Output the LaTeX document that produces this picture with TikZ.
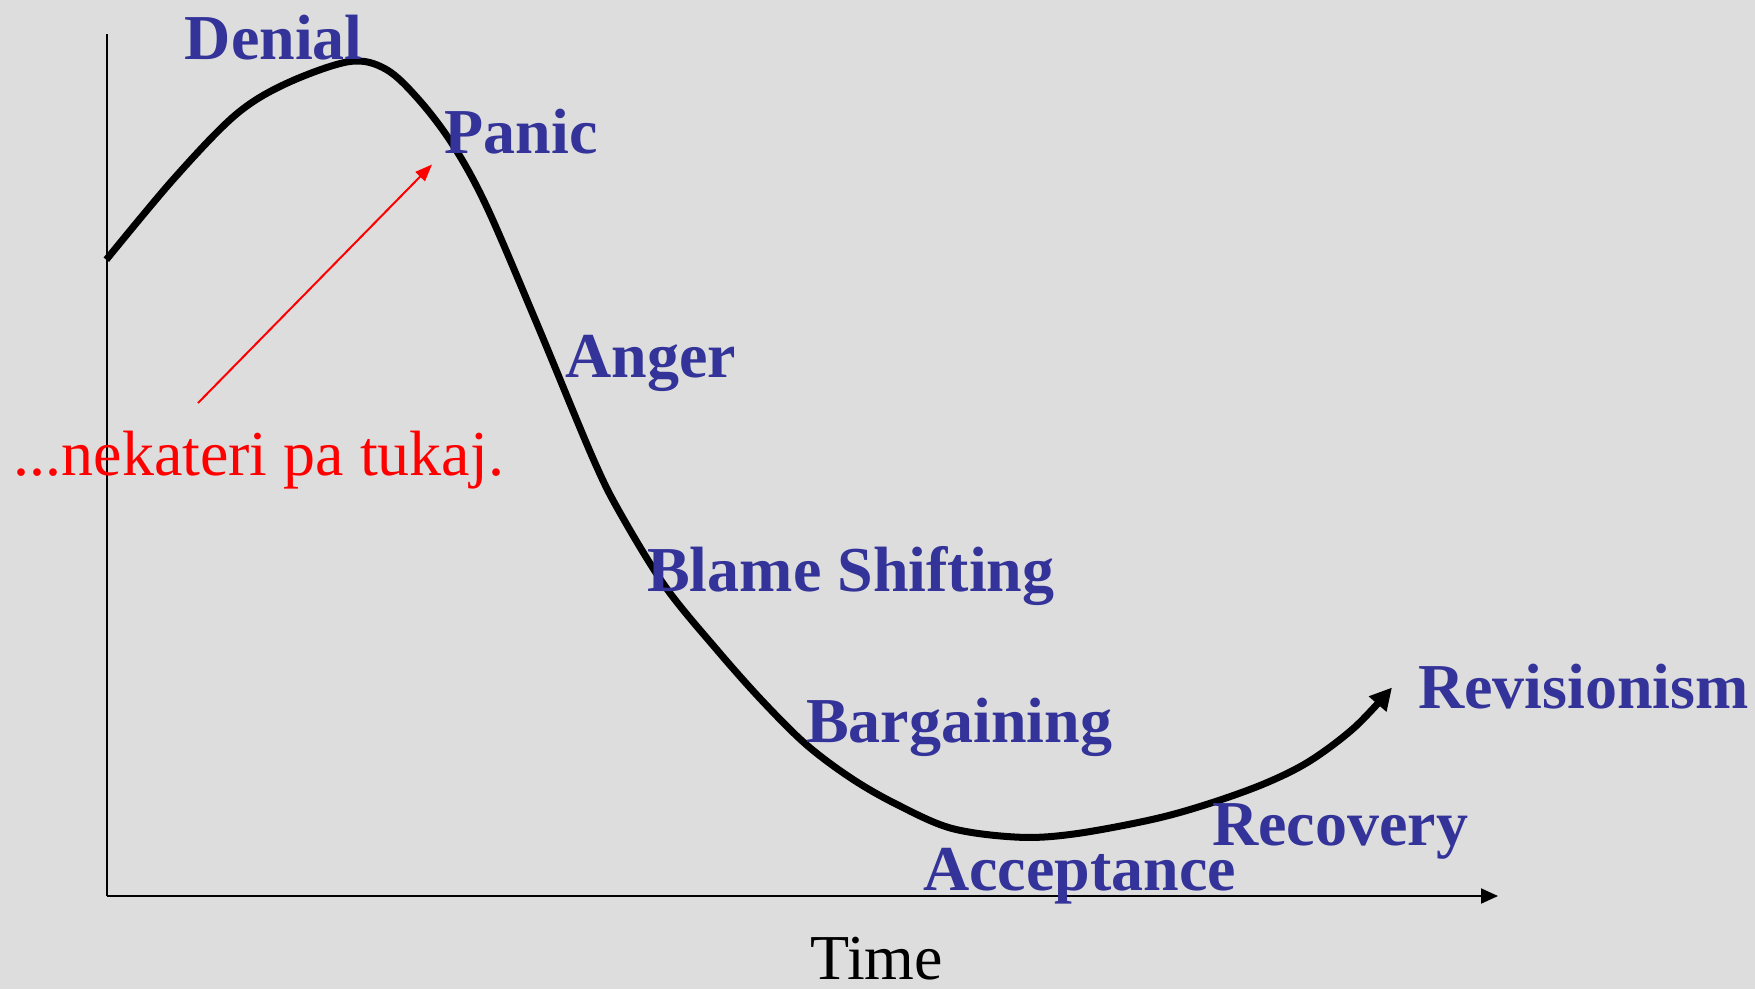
\documentclass[tikz,border=0pt]{standalone}
\usepackage{fontspec}
\setmainfont{Liberation Serif}
\usetikzlibrary{arrows.meta}
\definecolor{bg}{HTML}{DDDDDD}
\definecolor{stageblue}{HTML}{333399}
\definecolor{notered}{HTML}{FF0000}
\tikzset{
  stage/.style={anchor=base west, inner sep=0pt, text=stageblue, font=\fontsize{64}{70}\selectfont\bfseries},
  plain/.style={anchor=base west, inner sep=0pt, font=\fontsize{64}{70}\selectfont},
  axisline/.style={line width=2pt, -{Triangle[length=17pt,width=15pt]}},
  curveline/.style={line width=7pt, line join=round, -{Triangle[length=22pt,width=22pt]}},
  notearrow/.style={draw=notered, line width=2pt, -{Triangle[length=17pt,width=13pt]}}
}
\begin{document}
\begin{tikzpicture}[x=1pt,y=-1pt]
\fill[bg] (0,0) rectangle (1755,989);
\useasboundingbox (0,0) rectangle (1755,989);
% axes
\coordinate (ytop) at (106.5,34);
\coordinate (origin) at (106.5,896);
\coordinate (xend) at (1498,896);
\draw[line width=2pt] (ytop) -- (origin);
\draw[axisline] (origin) -- (xend);
% curve
\draw[curveline] plot[smooth, tension=0.55] coordinates {
(106.3,259.7) (173.5,179.1) (235,115.3) (285.4,83.9) (349.2,61.6) (386.2,69.4)
(419.7,100.7) (453.3,145.5) (486.9,207.1) (537.3,324.6) (593.2,458.9) (621.2,514.9)
(666,587.6) (716.4,649.2) (761.1,699.6) (805.9,744.3) (850.7,777.9) (895.4,803.7)
(951.4,828.3) (1018.6,837.2) (1074.5,833.9) (1152.9,819.3) (1208.8,803.7)
(1264.8,783.5) (1309.6,761.1) (1354.4,727.5) (1392,687.5)};
% labels
\node[stage] (denial) at (184.7,59.3) {Denial};
\node[stage] (panic) at (444.4,153.3) {Panic};
\node[stage] (anger) at (565.2,377.2) {Anger};
\node[stage] (blame) at (647,591) {Blame Shifting};
\node[stage] (bargain) at (806,742) {Bargaining};
\node[stage] (revision) at (1418,708.5) {Revisionism};
\node[stage] (recovery) at (1212,845) {Recovery};
\node[stage] (accept) at (923,890) {Acceptance};
\node[plain] (time) at (810,979) {Time};
\node[plain, text=notered] (note) at (13.4,475.7) {...nekateri pa tukaj.};
% red arrow
\coordinate (notestart) at (198,403);
\coordinate (noteend) at (432,164.5);
\draw[notearrow] (notestart) -- (noteend);
\end{tikzpicture}
\end{document}
